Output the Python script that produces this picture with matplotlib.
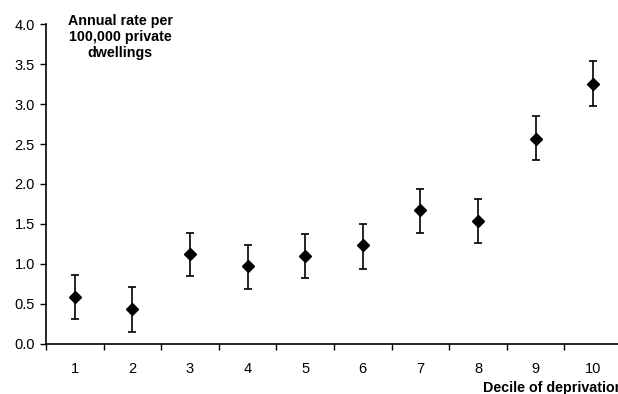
import matplotlib
matplotlib.use("Agg")
from matplotlib import pyplot as plt
import numpy as np

deciles = [1, 2, 3, 4, 5, 6, 7, 8, 9, 10]
rate = [0.58, 0.43, 1.12, 0.97, 1.10, 1.23, 1.67, 1.53, 2.56, 3.25]
lower = [0.31, 0.15, 0.84, 0.68, 0.82, 0.93, 1.38, 1.26, 2.30, 2.98]
upper = [0.86, 0.71, 1.38, 1.23, 1.37, 1.50, 1.93, 1.81, 2.85, 3.54]
yticks = [0.0, 0.5, 1.0, 1.5, 2.0, 2.5, 3.0, 3.5, 4.0]

plt.rcParams['font.family'] = ['Liberation Sans', 'DejaVu Sans']

fig = plt.figure(figsize=(6.18, 3.94), dpi=100)
ax = fig.add_axes([46 / 618, 50.5 / 394, 576 / 618, 319.2 / 394])

rate_arr = np.array(rate)
yerr = [rate_arr - np.array(lower), np.array(upper) - rate_arr]
ax.errorbar(deciles, rate, yerr=yerr, fmt='D', color='black', markersize=6.5,
            ecolor='black', elinewidth=1.2, capsize=3, capthick=1.2)

ax.set_xlim(0.5, 10.5)
ax.set_ylim(0, 4.0)
ax.set_xticks(deciles)
ax.set_xticklabels([str(d) for d in deciles])
ax.set_xticks(np.arange(0.5, 11, 1), minor=True)
ax.tick_params(axis='x', which='major', length=0, pad=13, labelsize=10.5)
ax.tick_params(axis='x', which='minor', length=4, width=1, direction='out')
ax.set_yticks(yticks)
ax.set_yticklabels(['%.1f' % v for v in yticks])
ax.tick_params(axis='y', length=4, width=1, direction='out', labelsize=10.5, pad=4)

for side in ['top', 'right']:
    ax.spines[side].set_visible(False)
for side in ['left', 'bottom']:
    ax.spines[side].set_linewidth(1.2)

fig.text(120 / 618, 1 - 37 / 394, 'Annual rate per\n100,000 private\ndwellings',
         ha='center', va='center', fontsize=10.3, fontweight='bold', linespacing=1.2)
fig.text(483 / 618, 1 - 388 / 394, 'Decile of deprivation', ha='left', va='center',
         fontsize=10.3, fontweight='bold')

plt.savefig('out.png', dpi=100)
plt.close()
